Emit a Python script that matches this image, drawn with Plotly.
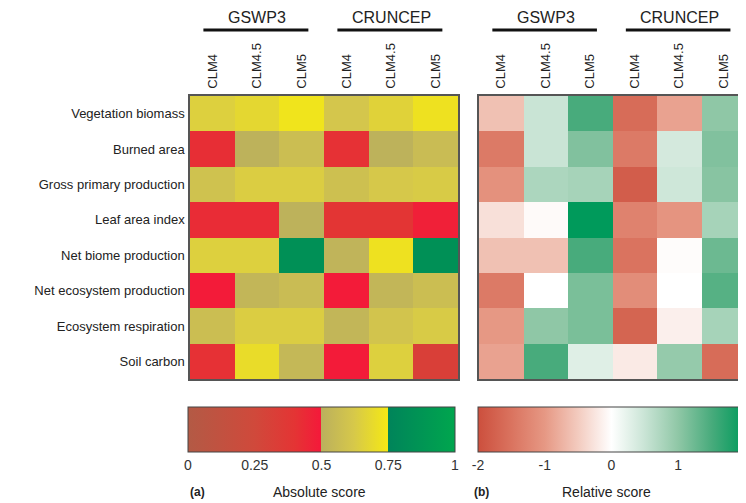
import plotly.graph_objects as go

# ---- data ----
variables = [
    "Vegetation biomass",
    "Burned area",
    "Gross primary production",
    "Leaf area index",
    "Net biome production",
    "Net ecosystem production",
    "Ecosystem respiration",
    "Soil carbon",
]
models = ["CLM4", "CLM4.5", "CLM5", "CLM4", "CLM4.5", "CLM5"]
forcings = ["GSWP3", "CRUNCEP"]

# columns: GSWP3 CLM4, CLM4.5, CLM5, CRUNCEP CLM4, CLM4.5, CLM5
absolute_score = [
    [0.65, 0.68, 0.73, 0.61, 0.66, 0.72],
    [0.42, 0.51, 0.57, 0.41, 0.51, 0.56],
    [0.59, 0.64, 0.64, 0.58, 0.62, 0.63],
    [0.43, 0.43, 0.51, 0.39, 0.39, 0.47],
    [0.65, 0.65, 0.84, 0.52, 0.72, 0.84],
    [0.49, 0.53, 0.56, 0.49, 0.53, 0.57],
    [0.57, 0.64, 0.64, 0.53, 0.60, 0.63],
    [0.41, 0.70, 0.54, 0.49, 0.65, 0.32],
]
relative_score = [
    [-0.6, 0.5, 1.5, -1.6, -0.9, 1.0],
    [-1.4, 0.5, 1.1, -1.4, 0.4, 1.1],
    [-1.1, 0.75, 0.8, -1.8, 0.45, 1.05],
    [-0.3, -0.05, 2.0, -1.3, -1.05, 0.8],
    [-0.6, -0.6, 1.5, -1.5, -0.03, 1.25],
    [-1.4, 0.0, 1.15, -1.15, 0.0, 1.4],
    [-1.0, 1.0, 1.15, -1.7, -0.15, 0.8],
    [-0.9, 1.5, 0.3, -0.2, 0.95, -1.6],
]
abs_ticks = [0, 0.25, 0.5, 0.75, 1]
abs_ticktext = ["0", "0.25", "0.5", "0.75", "1"]
rel_ticks = [-2, -1, 0, 1, 2]
rel_ticktext = ["-2", "-1", "0", "1", "2"]

# ---- colour scales ----
abs_scale = [
    [0.0, "#b35a45"], [0.25, "#d0493b"], [0.4, "#e43434"], [0.4999, "#f5183a"],
    [0.5, "#bbb05d"], [0.62, "#d6c84a"], [0.7499, "#f5e914"],
    [0.75, "#00845a"], [1.0, "#00a64e"],
]
rel_scale = [
    [0.0, "#cc4f3d"], [0.125, "#da735f"], [0.25, "#e69884"], [0.375, "#f3cbbf"],
    [0.5, "#ffffff"], [0.625, "#c9e4d5"], [0.75, "#8fc7a6"], [0.875, "#48ab7c"],
    [1.0, "#009a5b"],
]

# the page body adds an 8px margin, so the figure is 8px smaller and
# reference pixel positions are shifted by that much
OFF = 8
W, H = 746 - OFF, 503 - OFF
FONT = "Arial, Liberation Sans, sans-serif"


def px(x):
    return (x - OFF) / W


def py(y):
    return 1 - (y - OFF) / H


xs = list(range(len(models)))
ys = list(range(len(variables)))

fig = go.Figure()
fig.add_trace(go.Heatmap(
    z=absolute_score, x=xs, y=ys, zmin=0, zmax=1, colorscale=abs_scale,
    xaxis="x", yaxis="y",
    colorbar=dict(
        orientation="h", x=px(321.5), xanchor="center", y=py(407), yanchor="top",
        len=267, lenmode="pixels", thickness=45, thicknessmode="pixels",
        xpad=0, ypad=0, outlinewidth=1, outlinecolor="#444",
        tickvals=abs_ticks, ticktext=abs_ticktext, ticks="", ticklabeloverflow="allow",
        tickfont=dict(size=14, color="#333", family=FONT),
    ),
    hovertemplate="%{z:.2f}<extra></extra>",
))
fig.add_trace(go.Heatmap(
    z=relative_score, x=xs, y=ys, zmin=-2, zmax=2, colorscale=rel_scale,
    xaxis="x2", yaxis="y2",
    colorbar=dict(
        orientation="h", x=px(611.5), xanchor="center", y=py(407), yanchor="top",
        len=267, lenmode="pixels", thickness=45, thicknessmode="pixels",
        xpad=0, ypad=0, outlinewidth=1, outlinecolor="#444",
        tickvals=rel_ticks, ticktext=rel_ticktext, ticks="", ticklabeloverflow="allow",
        tickfont=dict(size=14, color="#333", family=FONT),
    ),
    hovertemplate="%{z:.2f}<extra></extra>",
))

frame = dict(showline=True, mirror=True, linecolor="#555", linewidth=1.5,
             showgrid=False, zeroline=False, automargin=False)
xcommon = dict(frame, side="top", tickvals=xs, ticktext=models, tickangle=-90,
               range=[-0.5, 5.5], ticks="", ticklabelstandoff=3,
               tickfont=dict(size=13, color="#222", family=FONT))
ycommon = dict(frame, tickvals=ys, range=[7.5, -0.5], ticks="")

fig.update_layout(
    width=W, height=H,
    margin=dict(l=0, r=0, t=0, b=0, autoexpand=False),
    paper_bgcolor="white", plot_bgcolor="white",
    font=dict(family=FONT, color="#222"),
    xaxis=dict(xcommon, domain=[px(190), px(458)], anchor="y"),
    yaxis=dict(ycommon, domain=[py(379), py(96)], anchor="x", ticktext=variables,
               ticklabelstandoff=1, tickfont=dict(size=13, color="#222", family=FONT)),
    xaxis2=dict(xcommon, domain=[px(479), px(746)], anchor="y2"),
    yaxis2=dict(ycommon, domain=[py(379), py(96)], anchor="x2", showticklabels=False),
    showlegend=False,
)

# forcing group headers above each panel
for xref in ["x", "x2"]:
    for i, name in enumerate(forcings):
        c = 1 + 3 * i
        fig.add_annotation(x=c, y=py(8), xref=xref, yref="paper", yanchor="top",
                           text=name, showarrow=False, borderpad=0,
                           font=dict(size=16, color="#222", family=FONT))
        fig.add_shape(type="line", xref=xref, yref="paper", x0=c - 1.2, x1=c + 1.15,
                      y0=py(30), y1=py(30), line=dict(color="#111", width=3))

# panel captions
captions = [
    (188, "<b>(a)</b>", "left", 12),
    (319, "Absolute score", "center", 14),
    (472, "<b>(b)</b>", "left", 12),
    (606, "Relative score", "center", 14),
]
for x, text, anchor, size in captions:
    fig.add_annotation(x=px(x), y=py(492), xref="paper", yref="paper", text=text,
                       showarrow=False, xanchor=anchor, yanchor="middle",
                       font=dict(size=size, color="#222"))

fig.write_html("out.html")
